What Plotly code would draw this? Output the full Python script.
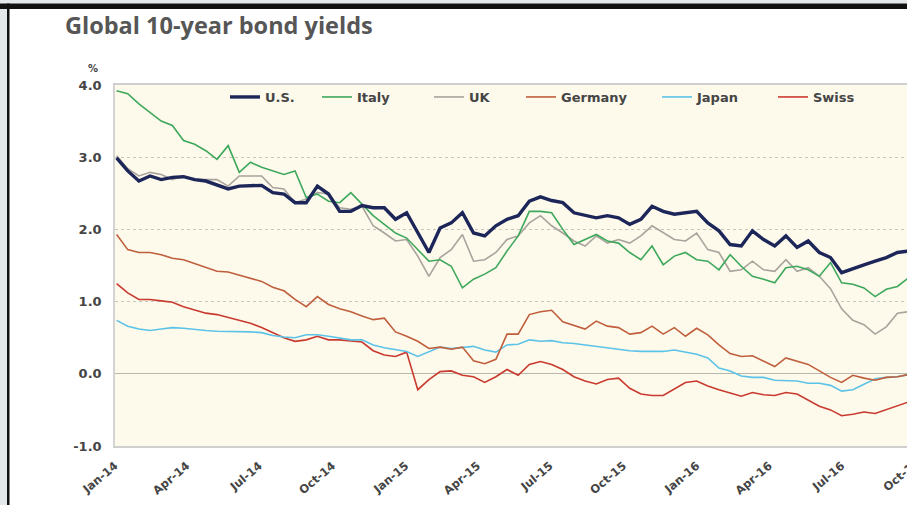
import pandas as pd
import plotly.graph_objects as go

# ---- data (bi-weekly readings, %) ----
dates = pd.date_range("2014-01-03", periods=72, freq="14D")

us = [2.99, 2.81, 2.67, 2.74, 2.69, 2.72, 2.73, 2.69, 2.67, 2.61,
      2.56, 2.60, 2.60, 2.61, 2.51, 2.49, 2.37, 2.37, 2.60, 2.49,
      2.25, 2.25, 2.33, 2.30, 2.30, 2.14, 2.23, 1.95, 1.68, 2.02,
      2.09, 2.23, 1.95, 1.91, 2.05, 2.14, 2.19, 2.39, 2.45, 2.40,
      2.37, 2.23, 2.19, 2.16, 2.19, 2.16, 2.07, 2.14, 2.32, 2.25,
      2.21, 2.23, 2.25, 2.09, 1.98, 1.79, 1.77, 1.98, 1.86, 1.77,
      1.91, 1.75, 1.84, 1.68, 1.61, 1.40, 1.46, 1.51, 1.56, 1.61,
      1.68, 1.70]

italy = [3.92, 3.88, 3.74, 3.62, 3.50, 3.44, 3.23, 3.18, 3.09, 2.97,
         3.16, 2.79, 2.93, 2.86, 2.81, 2.76, 2.81, 2.44, 2.49, 2.39,
         2.37, 2.51, 2.35, 2.19, 2.07, 1.95, 1.88, 1.72, 1.56, 1.58,
         1.49, 1.19, 1.31, 1.38, 1.47, 1.70, 1.91, 2.25, 2.25, 2.23,
         2.00, 1.79, 1.86, 1.93, 1.84, 1.81, 1.68, 1.58, 1.77, 1.51,
         1.63, 1.68, 1.58, 1.56, 1.44, 1.65, 1.49, 1.35, 1.31, 1.26,
         1.47, 1.49, 1.44, 1.35, 1.54, 1.26, 1.24, 1.19, 1.07, 1.17,
         1.21, 1.33]

uk = [3.02, 2.84, 2.74, 2.79, 2.76, 2.69, 2.74, 2.69, 2.69, 2.69,
      2.60, 2.74, 2.74, 2.74, 2.58, 2.56, 2.37, 2.42, 2.51, 2.49,
      2.30, 2.28, 2.32, 2.05, 1.95, 1.84, 1.86, 1.63, 1.35, 1.61,
      1.72, 1.93, 1.56, 1.58, 1.68, 1.86, 1.91, 2.09, 2.19, 2.05,
      1.95, 1.84, 1.77, 1.91, 1.81, 1.86, 1.81, 1.91, 2.05, 1.95,
      1.86, 1.84, 1.95, 1.72, 1.68, 1.42, 1.44, 1.56, 1.44, 1.42,
      1.58, 1.42, 1.47, 1.35, 1.18, 0.90, 0.74, 0.68, 0.55, 0.65,
      0.84, 0.86]

germany = [1.93, 1.72, 1.68, 1.68, 1.65, 1.60, 1.58, 1.53, 1.48, 1.42,
           1.41, 1.37, 1.33, 1.28, 1.20, 1.15, 1.03, 0.93, 1.07, 0.96,
           0.90, 0.86, 0.80, 0.75, 0.77, 0.58, 0.52, 0.45, 0.35, 0.37,
           0.34, 0.37, 0.18, 0.14, 0.20, 0.55, 0.55, 0.82, 0.86, 0.88,
           0.72, 0.67, 0.62, 0.73, 0.66, 0.64, 0.55, 0.57, 0.66, 0.55,
           0.64, 0.52, 0.63, 0.54, 0.40, 0.28, 0.24, 0.25, 0.17, 0.10,
           0.22, 0.17, 0.13, 0.04, -0.05, -0.12, -0.02, -0.06, -0.09, -0.05,
           -0.04, -0.01]

japan = [0.74, 0.66, 0.62, 0.60, 0.62, 0.64, 0.63, 0.61, 0.60, 0.59,
         0.59, 0.59, 0.58, 0.57, 0.53, 0.51, 0.50, 0.54, 0.54, 0.52,
         0.49, 0.47, 0.47, 0.40, 0.36, 0.33, 0.31, 0.24, 0.30, 0.37,
         0.35, 0.36, 0.38, 0.33, 0.30, 0.40, 0.41, 0.47, 0.45, 0.46,
         0.43, 0.42, 0.40, 0.38, 0.36, 0.33, 0.32, 0.31, 0.31, 0.31,
         0.33, 0.30, 0.27, 0.22, 0.08, 0.04, -0.03, -0.05, -0.05, -0.09,
         -0.10, -0.10, -0.13, -0.13, -0.16, -0.24, -0.22, -0.14, -0.07, -0.05,
         -0.04, -0.01]

swiss = [1.25, 1.12, 1.03, 1.03, 1.01, 0.99, 0.93, 0.89, 0.84, 0.82,
         0.78, 0.75, 0.70, 0.64, 0.57, 0.50, 0.45, 0.47, 0.52, 0.47,
         0.47, 0.46, 0.44, 0.32, 0.26, 0.24, 0.30, -0.22, -0.08, 0.03,
         0.04, -0.02, -0.04, -0.12, -0.04, 0.06, -0.02, 0.13, 0.17, 0.13,
         0.06, -0.04, -0.10, -0.14, -0.08, -0.06, -0.20, -0.28, -0.30, -0.30,
         -0.21, -0.12, -0.10, -0.17, -0.22, -0.27, -0.31, -0.26, -0.29, -0.30,
         -0.26, -0.28, -0.36, -0.45, -0.50, -0.58, -0.56, -0.53, -0.55, -0.50,
         -0.44, -0.39]

tick_dates = ["2014-01-01", "2014-04-01", "2014-07-01", "2014-10-01",
              "2015-01-01", "2015-04-01", "2015-07-01", "2015-10-01",
              "2016-01-01", "2016-04-01", "2016-07-01"]
tick_labels = ["Jan-14", "Apr-14", "Jul-14", "Oct-14", "Jan-15", "Apr-15",
               "Jul-15", "Oct-15", "Jan-16", "Apr-16", "Jul-16"]
extra_tick_label = "Oct-16"
y_ticks = [-1, 0, 1, 2, 3, 4]
y_tick_labels = ["-1.0", "0.0", "1.0", "2.0", "3.0", "4.0"]

# ---- geometry helpers (pixels -> paper) ----
W, H = 907, 505
L, R, T, B = 115, 0, 85, 59
PW, PH = W - L - R, H - T - B


def px(x):
    return (x - L) / PW


def py(y):
    return (H - B - y) / PH


TXT = "#454545"
BOLD = "bold"

fig = go.Figure()

series = [
    ("Swiss", swiss, "#c93a2f", 1.6, "legend6", 813),
    ("Japan", japan, "#5cc3e8", 1.6, "legend5", 697),
    ("Germany", germany, "#bf5f3d", 1.6, "legend4", 561),
    ("UK", uk, "#a9a39d", 1.6, "legend3", 469),
    ("Italy", italy, "#3ea85c", 1.6, "legend2", 357),
    ("U.S.", us, "#1c2659", 3.4, "legend", 265),
]

legend_layouts = {}
for name, vals, color, width, lg, text_x in series:
    fig.add_trace(go.Scatter(
        x=dates, y=vals, mode="lines", name=name,
        line=dict(color=color, width=width),
        legend=lg, showlegend=True,
    ))
    legend_layouts[lg] = dict(
        x=px(text_x - 40), y=py(97), xanchor="left", yanchor="middle",
        orientation="h", bgcolor="rgba(0,0,0,0)", borderwidth=0,
        font=dict(family="DejaVu Sans", size=13, color=TXT, weight=BOLD),
    )

fig.update_layout(**legend_layouts)

fig.update_layout(
    width=W, height=H,
    margin=dict(l=L, r=R, t=T, b=B, pad=0),
    paper_bgcolor="white",
    plot_bgcolor="#fdf9eb",
    title=dict(text="Global 10-year bond yields", x=65 / W, xanchor="left",
               y=1 - 26 / H, yanchor="middle",
               font=dict(family="Open Sans", size=23.5, color="#565656", weight=BOLD)),
    xaxis=dict(
        type="date", range=["2014-01-01", "2016-09-21"],
        tickmode="array", tickvals=tick_dates, ticktext=tick_labels,
        tickangle=-40, ticks="", ticklabelstandoff=7,
        tickfont=dict(family="DejaVu Sans", size=11.5, color=TXT, weight=BOLD),
        showgrid=False, showline=True, linecolor="#cfcfcf", linewidth=1.5,
        mirror=True, zeroline=False,
    ),
    yaxis=dict(
        range=[-1, 4], tickmode="array", tickvals=y_ticks, ticktext=y_tick_labels,
        ticks="", ticklabelstandoff=9,
        tickfont=dict(family="DejaVu Sans", size=13, color=TXT, weight=BOLD),
        showgrid=True, gridcolor="#c9c6bb", griddash="dot", gridwidth=1,
        zeroline=True, zerolinecolor="#b9b6ae", zerolinewidth=1.2,
        showline=True, linecolor="#d4d4d4", linewidth=1.5,
    ),
    showlegend=True,
)

# percent unit label
fig.add_annotation(text="%", x=px(93), y=py(68), xref="paper", yref="paper",
                   showarrow=False, xanchor="center", yanchor="middle",
                   font=dict(family="DejaVu Sans", size=10, color=TXT, weight=BOLD))

# last (cut-off) x tick label
fig.add_annotation(text=extra_tick_label, x=px(925), y=py(453), xref="paper", yref="paper",
                   showarrow=False, xanchor="right", yanchor="top", textangle=-40,
                   font=dict(family="DejaVu Sans", size=11.5, color=TXT, weight=BOLD))

# outer frame: light strips and black border lines
frame = [
    (0, 0, W, 3.5, "#e3e9eb"),
    (0, 0, 7, H, "#e3e9eb"),
    (0, 3.5, W, 9, "#111111"),
    (7, 3.5, 9.5, H, "#111111"),
]
for x0, y0, x1, y1, c in frame:
    fig.add_shape(type="rect", xref="paper", yref="paper",
                  x0=px(x0), x1=px(x1), y0=py(y1), y1=py(y0),
                  fillcolor=c, line=dict(width=0), layer="above")

fig.write_html("out.html", config={"displayModeBar": False},
               post_script="document.body.style.margin='0';document.body.style.overflow='hidden';")
